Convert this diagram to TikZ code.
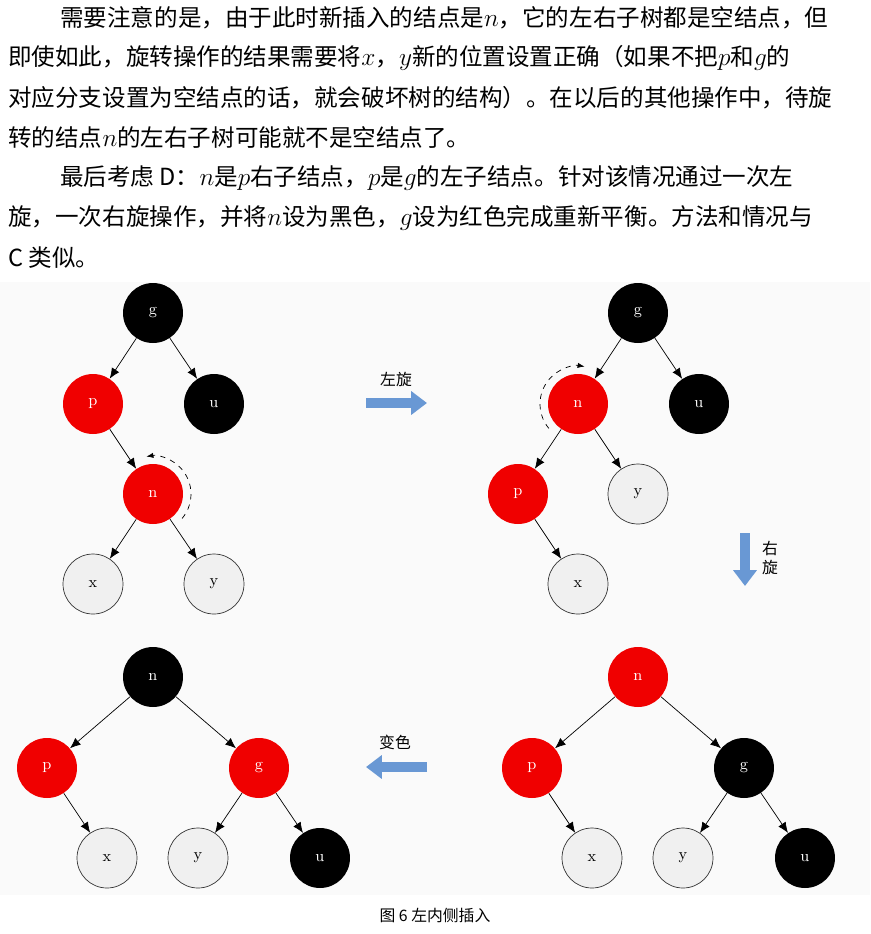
\documentclass[tikz,border=0pt]{standalone}
\usepackage{fontspec}
\newfontfamily\cjk{Noto Sans CJK SC}
\usetikzlibrary{arrows.meta}
\definecolor{rbred}{RGB}{240,0,0}
\definecolor{nilgray}{RGB}{240,240,240}
\definecolor{opblue}{RGB}{105,152,212}
\tikzset{
  rb/.style={circle,minimum size=1.2cm,inner sep=0pt,font=\small},
  red/.style={rb,fill=rbred,text=white},
  blk/.style={rb,fill=black,text=white},
  nil/.style={rb,fill=nilgray,draw=black!80,thin},
  link/.style={-{Latex[length=6pt,width=5pt]},thin},
  turn/.style={dashed,thin,-{Latex[length=4pt,width=3pt]}},
  op/.style={opblue,line width=5.5pt,-{Triangle[length=9pt,width=13pt]}},
  para/.style={anchor=west,inner sep=0pt,font=\cjk\fontsize{13.4}{15}\selectfont}
}
\begin{document}
\begin{tikzpicture}[x=0.02cm,y=-0.02cm]
\useasboundingbox (0,0) rectangle (870,934);
\fill[black!2] (0,282) rectangle (870,895);
% text
\node[para] (l1) at (60,18) {需要注意的是，由于此时新插入的结点是$n$，它的左右子树都是空结点，但};
\node[para] (l2) at (8,58) {即使如此，旋转操作的结果需要将$x$，$y$新的位置设置正确（如果不把$p$和$g$的};
\node[para] (l3) at (8,98) {对应分支设置为空结点的话，就会破坏树的结构）。在以后的其他操作中，待旋};
\node[para] (l4) at (8,137) {转的结点$n$的左右子树可能就不是空结点了。};
\node[para] (l5) at (60,178) {最后考虑 D：$n$是$p$右子结点，$p$是$g$的左子结点。针对该情况通过一次左};
\node[para] (l6) at (8,218) {旋，一次右旋操作，并将$n$设为黑色，$g$设为红色完成重新平衡。方法和情况与};
\node[para] (l7) at (8,258) {C 类似。};
% tree 1
\node[blk] (ag) at (153,313) {g};
\node[red] (ap) at (93,404) {p};
\node[blk] (au) at (214,404) {u};
\node[red] (an) at (153,494) {n};
\node[nil] (ax) at (93,584) {x};
\node[nil] (ay) at (214,584) {y};
\draw[link] (ag) -- (ap);
\draw[link] (ag) -- (au);
\draw[link] (ap) -- (an);
\draw[link] (an) -- (ax);
\draw[link] (an) -- (ay);
\draw[turn] (an.center) ++(40:38) arc (40:-100:38);
% left rotate
\node[font=\cjk\small] (lrot) at (396,379) {左旋};
\coordinate (lrA) at (366,403);
\coordinate (lrB) at (427,403);
\draw[op] (lrA) -- (lrB);
% tree 2
\node[blk] (bg) at (638,313) {g};
\node[red] (bn) at (578,404) {n};
\node[blk] (bu) at (699,404) {u};
\node[red] (bp) at (518,494) {p};
\node[nil] (by) at (638,494) {y};
\node[nil] (bx) at (578,584) {x};
\draw[link] (bg) -- (bn);
\draw[link] (bg) -- (bu);
\draw[link] (bn) -- (bp);
\draw[link] (bn) -- (by);
\draw[link] (bp) -- (bx);
\draw[turn] (bn.center) ++(140:38) arc (140:280:38);
% right rotate
\node[font=\cjk\small,align=center] (rrot) at (770,558) {右\\旋};
\coordinate (rrA) at (745,533);
\coordinate (rrB) at (745,586);
\draw[op] (rrA) -- (rrB);
% tree 3
\node[red] (cn) at (638,677) {n};
\node[red] (cp) at (532,768) {p};
\node[blk] (cg) at (744,768) {g};
\node[nil] (cx) at (592,858) {x};
\node[nil] (cy) at (683,858) {y};
\node[blk] (cu) at (805,858) {u};
\draw[link] (cn) -- (cp);
\draw[link] (cn) -- (cg);
\draw[link] (cp) -- (cx);
\draw[link] (cg) -- (cy);
\draw[link] (cg) -- (cu);
% recolor
\node[font=\cjk\small] (recol) at (395,742) {变色};
\coordinate (rcA) at (427,767);
\coordinate (rcB) at (366,767);
\draw[op] (rcA) -- (rcB);
% tree 4
\node[blk] (dn) at (153,677) {n};
\node[red] (dp) at (47,768) {p};
\node[red] (dg) at (259,768) {g};
\node[nil] (dx) at (107,858) {x};
\node[nil] (dy) at (198,858) {y};
\node[blk] (du) at (320,858) {u};
\draw[link] (dn) -- (dp);
\draw[link] (dn) -- (dg);
\draw[link] (dp) -- (dx);
\draw[link] (dg) -- (dy);
\draw[link] (dg) -- (du);
% caption
\node[font=\cjk\small] (cap) at (435,915) {图 6 左内侧插入};
\end{tikzpicture}
\end{document}
